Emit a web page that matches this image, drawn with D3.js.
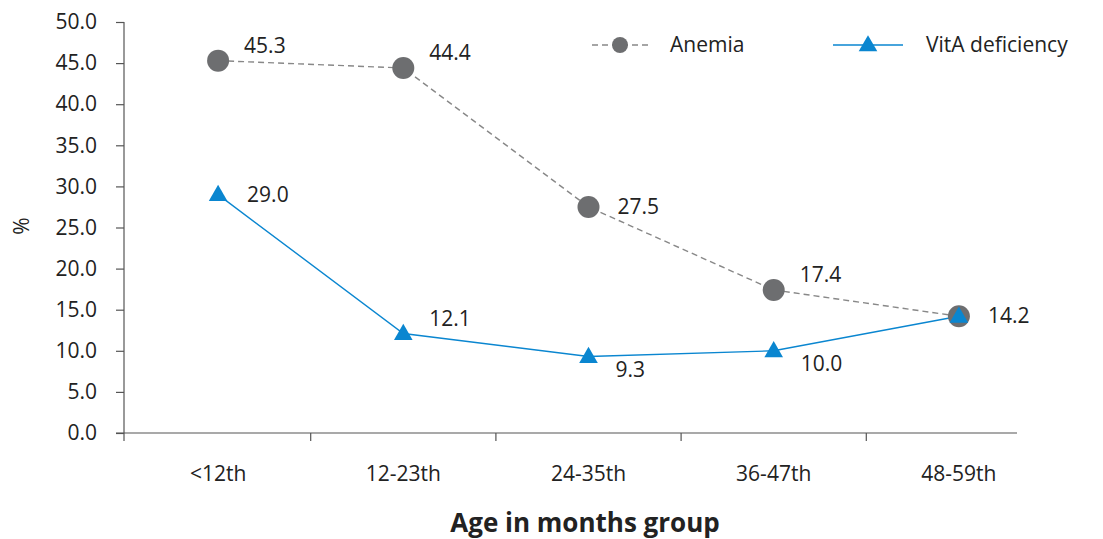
<!DOCTYPE html>
<html>
<head>
<meta charset="utf-8">
<script src="https://cdn.jsdelivr.net/npm/d3@7"></script>
<style>
  html, body { margin: 0; padding: 0; background: #fff; }
  svg text { font-family: "Open Sans", "Noto Sans", sans-serif; fill: #222; }
</style>
</head>
<body>
<svg id="chart" width="1103" height="539"></svg>
<script>
// Age groups and prevalence (%) by group
const ageGroups = ["<12th", "12-23th", "24-35th", "36-47th", "48-59th"];
const anemia = [45.3, 44.4, 27.5, 17.4, 14.2];
const vitA = [29.0, 12.1, 9.3, 10.0, 14.2];
const yTicks = [0, 5, 10, 15, 20, 25, 30, 35, 40, 45, 50];

// where each value label sits relative to its point
const anemiaLabelSide = ["ne", "ne", "e", "ne", "e"];
const vitALabelSide = ["e", "ne", "se", "se", null];

const svg = d3.select("#chart");
const plot = { left: 124, right: 1050, top: 22, bottom: 433 };

const x = d3.scaleBand().domain(ageGroups).range([plot.left + 1.5, plot.right + 1.5]);
const y = d3.scaleLinear().domain([0, 50]).range([plot.bottom, plot.top]);
const cx = d => x(d) + x.bandwidth() / 2;

const axisColor = "#555";
const grey = "#6d6e70";
const blue = "#0a86d0";
const fs = 21;

// y axis
const yAxis = svg.append("g")
  .attr("transform", `translate(${plot.left},0)`)
  .call(d3.axisLeft(y).tickValues(yTicks).tickFormat(d3.format(".1f")).tickSize(8).tickSizeOuter(0));
yAxis.select(".domain").remove();
yAxis.append("line").attr("x1", 0).attr("x2", 0).attr("y1", plot.top).attr("y2", plot.bottom + 8)
  .attr("stroke", axisColor).attr("stroke-width", 1.2);
yAxis.selectAll(".tick line").attr("stroke", axisColor).attr("stroke-width", 1.2);
yAxis.selectAll(".tick text").attr("x", -27).attr("font-size", fs).attr("fill", "#222");

// x axis
const xAxis = svg.append("g")
  .attr("transform", `translate(0,${plot.bottom})`);
xAxis.append("line").attr("x1", plot.left - 8).attr("x2", 1017).attr("y1", 0).attr("y2", 0)
  .attr("stroke", axisColor).attr("stroke-width", 1.2);
xAxis.selectAll("line.tick").data(ageGroups.slice(1)).enter().append("line")
  .attr("class", "tick")
  .attr("x1", d => x(d)).attr("x2", d => x(d)).attr("y1", 0).attr("y2", 8)
  .attr("stroke", axisColor).attr("stroke-width", 1.2);
xAxis.selectAll("text").data(ageGroups).enter().append("text")
  .attr("x", d => cx(d)).attr("y", 48).attr("text-anchor", "middle")
  .attr("font-size", fs).text(d => d);

// axis titles
svg.append("text").attr("x", 585).attr("y", 532).attr("text-anchor", "middle")
  .attr("font-size", 26).attr("font-weight", "bold").text("Age in months group");
svg.append("text").attr("transform", "translate(29,226) rotate(-90)")
  .attr("text-anchor", "middle").attr("font-size", fs).text("%");

// lines
const line = d3.line().x((d, i) => cx(ageGroups[i])).y(d => y(d));
svg.append("path").datum(anemia).attr("d", line).attr("fill", "none")
  .attr("stroke", "#888").attr("stroke-width", 1.4).attr("stroke-dasharray", "6,4");
svg.append("path").datum(vitA).attr("d", line).attr("fill", "none")
  .attr("stroke", blue).attr("stroke-width", 1.4);

// markers
svg.selectAll("circle.anemia").data(anemia).enter().append("circle")
  .attr("class", "anemia")
  .attr("cx", (d, i) => cx(ageGroups[i])).attr("cy", d => y(d)).attr("r", 11)
  .attr("fill", grey);
const tri = d3.symbol().type(d3.symbolTriangle).size(150);
svg.selectAll("path.vita").data(vitA).enter().append("path")
  .attr("class", "vita")
  .attr("d", tri)
  .attr("transform", (d, i) => `translate(${cx(ageGroups[i])},${y(d) + 1})`)
  .attr("fill", blue);

// value labels
const offsets = { ne: [26, -8], e: [29, 7], se: [27, 20] };
function labels(values, sides, cls) {
  svg.selectAll("text." + cls).data(values.map((v, i) => ({ v, i, s: sides[i] })).filter(d => d.s))
    .enter().append("text").attr("class", cls)
    .attr("x", d => cx(ageGroups[d.i]) + offsets[d.s][0])
    .attr("y", d => y(d.v) + offsets[d.s][1])
    .attr("text-anchor", "start").attr("font-size", fs)
    .text(d => d3.format(".1f")(d.v));
}
labels(anemia, anemiaLabelSide, "al");
labels(vitA, vitALabelSide, "vl");

// legend
const lg = svg.append("g");
lg.append("line").attr("x1", 592).attr("x2", 648).attr("y1", 45).attr("y2", 45)
  .attr("stroke", "#888").attr("stroke-width", 1.4).attr("stroke-dasharray", "6,4");
lg.append("circle").attr("cx", 620).attr("cy", 45).attr("r", 8).attr("fill", grey);
lg.append("text").attr("x", 670).attr("y", 52).attr("font-size", fs).text("Anemia");
lg.append("line").attr("x1", 833).attr("x2", 903).attr("y1", 45).attr("y2", 45)
  .attr("stroke", blue).attr("stroke-width", 1.4);
lg.append("path").attr("d", tri).attr("transform", "translate(868,46)").attr("fill", blue);
lg.append("text").attr("x", 926).attr("y", 52).attr("font-size", fs).text("VitA deficiency");
</script>
</body>
</html>
